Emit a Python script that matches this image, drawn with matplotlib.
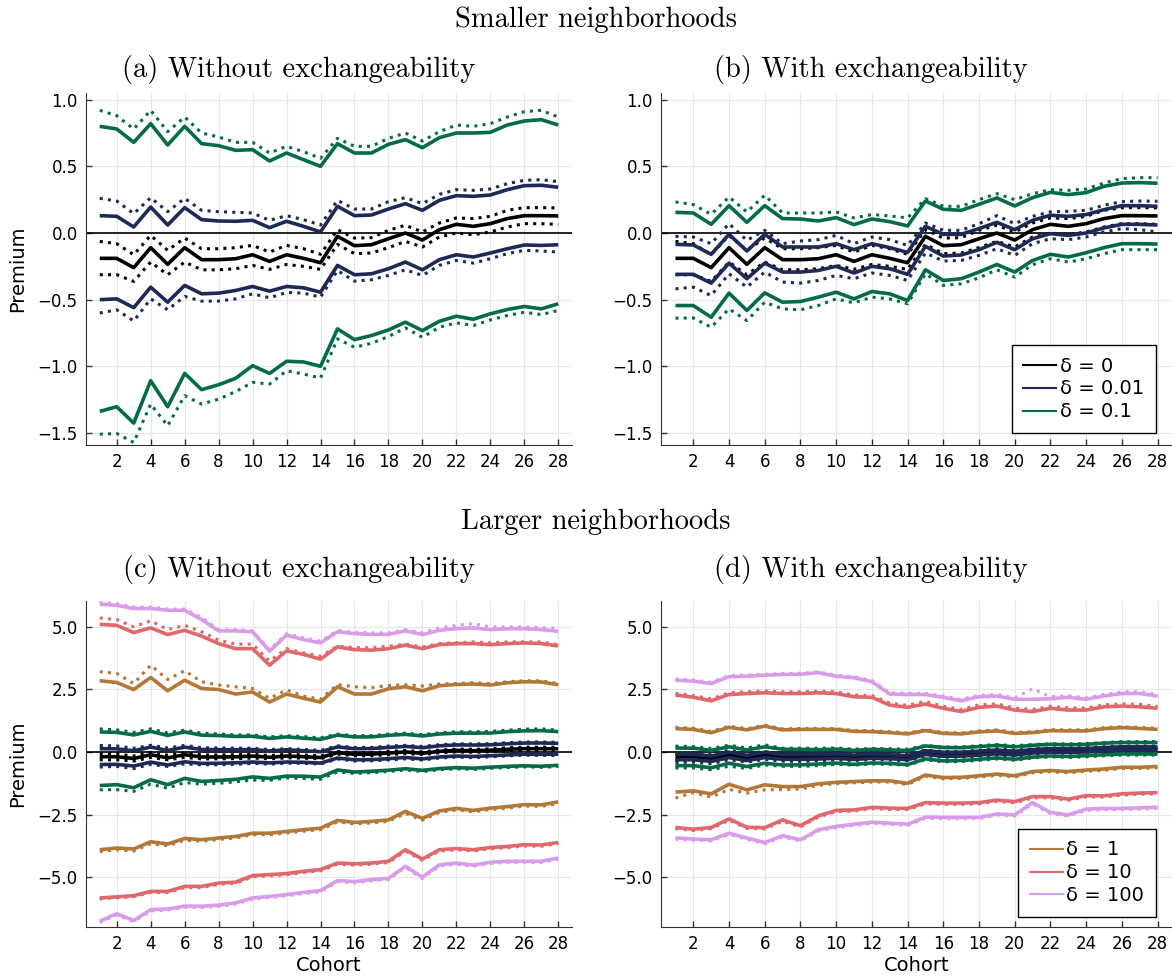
import numpy as np
import matplotlib
matplotlib.use("Agg")
import matplotlib.pyplot as plt
from matplotlib.lines import Line2D
from matplotlib.ticker import FuncFormatter

cohorts = np.arange(1, 29)

# ---- Smaller neighborhoods, without exchangeability (a) ----
a_black = [-0.19, -0.19, -0.26, -0.11, -0.235, -0.11, -0.20, -0.20, -0.193, -0.163, -0.213, -0.163, -0.19, -0.223,
           -0.025, -0.095, -0.088, -0.043, 0.0, -0.053, 0.025, 0.065, 0.05, 0.07, 0.108, 0.13, 0.13, 0.128]
a_black_hi_dot = [-0.063, -0.08, -0.163, -0.018, -0.13, -0.038, -0.118, -0.118, -0.11, -0.093, -0.143, -0.093, -0.118, -0.16,
                  0.025, -0.038, -0.035, 0.02, 0.058, 0.008, 0.075, 0.113, 0.108, 0.125, 0.17, 0.19, 0.19, 0.188]
a_black_lo_dot = [-0.313, -0.313, -0.363, -0.218, -0.313, -0.218, -0.276, -0.276, -0.268, -0.243, -0.273, -0.236, -0.25, -0.273,
                  -0.085, -0.155, -0.15, -0.11, -0.063, -0.105, -0.03, 0.0, -0.013, 0.008, 0.045, 0.07, 0.07, 0.065]
a_blue_hi = [0.13, 0.125, 0.045, 0.195, 0.06, 0.19, 0.10, 0.09, 0.088, 0.095, 0.04, 0.088, 0.05, 0.008,
             0.20, 0.13, 0.135, 0.18, 0.22, 0.17, 0.245, 0.28, 0.275, 0.285, 0.325, 0.355, 0.358, 0.343]
a_blue_hi_dot = [0.26, 0.24, 0.145, 0.265, 0.16, 0.26, 0.17, 0.16, 0.155, 0.15, 0.095, 0.13, 0.10, 0.06,
                 0.245, 0.18, 0.18, 0.235, 0.265, 0.22, 0.29, 0.325, 0.32, 0.33, 0.37, 0.395, 0.40, 0.385]
a_blue_lo = [-0.50, -0.494, -0.56, -0.406, -0.519, -0.393, -0.456, -0.451, -0.431, -0.401, -0.436, -0.401, -0.411, -0.444,
             -0.243, -0.313, -0.306, -0.268, -0.218, -0.276, -0.20, -0.163, -0.18, -0.15, -0.118, -0.09, -0.093, -0.088]
a_blue_lo_dot = [-0.60, -0.576, -0.66, -0.494, -0.576, -0.476, -0.511, -0.511, -0.494, -0.456, -0.486, -0.446, -0.451, -0.481,
                 -0.281, -0.361, -0.351, -0.318, -0.276, -0.318, -0.243, -0.206, -0.226, -0.193, -0.155, -0.13, -0.135, -0.143]
a_green_hi = [0.80, 0.78, 0.68, 0.82, 0.66, 0.80, 0.67, 0.655, 0.62, 0.625, 0.54, 0.60, 0.55, 0.50,
              0.67, 0.60, 0.60, 0.665, 0.70, 0.64, 0.715, 0.75, 0.75, 0.755, 0.81, 0.84, 0.85, 0.81]
a_green_hi_dot = [0.92, 0.88, 0.78, 0.92, 0.76, 0.87, 0.75, 0.72, 0.68, 0.68, 0.60, 0.65, 0.61, 0.56,
                  0.71, 0.65, 0.65, 0.71, 0.75, 0.69, 0.76, 0.81, 0.80, 0.82, 0.87, 0.91, 0.92, 0.87]
a_green_lo = [-1.338, -1.303, -1.426, -1.108, -1.303, -1.053, -1.175, -1.138, -1.09, -0.995, -1.053, -0.962, -0.967, -1.0,
              -0.719, -0.8, -0.769, -0.727, -0.669, -0.732, -0.662, -0.624, -0.647, -0.606, -0.574, -0.551, -0.569, -0.531]
a_green_lo_dot = [-1.509, -1.504, -1.571, -1.283, -1.446, -1.22, -1.283, -1.246, -1.19, -1.12, -1.133, -1.033, -1.058, -1.088,
                  -0.794, -0.857, -0.827, -0.777, -0.712, -0.782, -0.707, -0.674, -0.694, -0.652, -0.619, -0.594, -0.612, -0.581]

# ---- Smaller neighborhoods, with exchangeability (b) ----
b_blue_hi = [-0.085, -0.09, -0.16, -0.01, -0.135, -0.01, -0.105, -0.105, -0.105, -0.08, -0.125, -0.08, -0.11, -0.145,
             0.05, -0.01, -0.01, 0.033, 0.08, 0.025, 0.095, 0.133, 0.125, 0.138, 0.175, 0.205, 0.205, 0.2]
b_blue_hi_dot = [-0.025, -0.03, -0.08, 0.07, -0.055, 0.02, -0.08, -0.06, -0.05, -0.018, -0.08, -0.03, -0.05, -0.093,
                 0.075, 0.02, 0.02, 0.07, 0.13, 0.07, 0.125, 0.158, 0.163, 0.17, 0.208, 0.235, 0.24, 0.238]
b_blue_lo = [-0.31, -0.31, -0.376, -0.226, -0.343, -0.226, -0.293, -0.293, -0.281, -0.25, -0.30, -0.25, -0.268, -0.31,
             -0.10, -0.173, -0.165, -0.125, -0.07, -0.125, -0.043, -0.005, -0.018, 0.0, 0.038, 0.065, 0.065, 0.06]
b_blue_lo_dot = [-0.419, -0.406, -0.469, -0.306, -0.406, -0.293, -0.368, -0.376, -0.356, -0.318, -0.343, -0.30, -0.318, -0.356,
                 -0.15, -0.21, -0.206, -0.168, -0.118, -0.168, -0.08, -0.043, -0.05, -0.03, 0.008, 0.033, 0.025, 0.008]
b_green_hi = [0.155, 0.15, 0.065, 0.205, 0.08, 0.205, 0.108, 0.105, 0.09, 0.115, 0.063, 0.105, 0.085, 0.053,
              0.24, 0.178, 0.17, 0.215, 0.263, 0.203, 0.265, 0.305, 0.288, 0.303, 0.35, 0.375, 0.378, 0.373]
b_green_hi_dot = [0.233, 0.213, 0.14, 0.27, 0.158, 0.283, 0.15, 0.15, 0.15, 0.158, 0.113, 0.138, 0.128, 0.113,
                  0.258, 0.2, 0.2, 0.25, 0.295, 0.25, 0.295, 0.325, 0.32, 0.33, 0.375, 0.408, 0.415, 0.415]
b_green_lo = [-0.544, -0.544, -0.632, -0.451, -0.581, -0.449, -0.519, -0.514, -0.481, -0.444, -0.494, -0.439, -0.456, -0.506,
              -0.276, -0.356, -0.343, -0.293, -0.236, -0.293, -0.206, -0.16, -0.18, -0.148, -0.11, -0.08, -0.08, -0.083]
b_green_lo_dot = [-0.639, -0.637, -0.707, -0.569, -0.657, -0.519, -0.569, -0.576, -0.544, -0.494, -0.524, -0.481, -0.494, -0.531,
                  -0.306, -0.393, -0.381, -0.336, -0.276, -0.331, -0.238, -0.193, -0.218, -0.193, -0.155, -0.125, -0.125, -0.125]

# ---- Larger neighborhoods, without exchangeability (c) ----
c_brown_hi = [2.84, 2.77, 2.49, 2.97, 2.44, 2.86, 2.53, 2.49, 2.31, 2.39, 1.99, 2.31, 2.14, 1.99,
              2.60, 2.31, 2.31, 2.52, 2.60, 2.44, 2.64, 2.69, 2.71, 2.67, 2.76, 2.80, 2.79, 2.68]
c_brown_hi_dot = [3.20, 3.13, 2.73, 3.46, 2.89, 3.24, 2.80, 2.67, 2.60, 2.53, 2.14, 2.47, 2.23, 2.10,
                  2.69, 2.60, 2.57, 2.65, 2.68, 2.63, 2.71, 2.73, 2.76, 2.73, 2.80, 2.84, 2.84, 2.73]
c_brown_lo = [-3.90, -3.83, -3.87, -3.58, -3.67, -3.45, -3.50, -3.43, -3.37, -3.24, -3.24, -3.17, -3.10, -3.04,
              -2.73, -2.81, -2.77, -2.71, -2.37, -2.65, -2.35, -2.25, -2.33, -2.24, -2.18, -2.10, -2.11, -1.99]
c_brown_lo_dot = [-3.97, -3.90, -3.95, -3.66, -3.74, -3.52, -3.56, -3.49, -3.43, -3.30, -3.30, -3.23, -3.16, -3.10,
                  -2.79, -2.87, -2.83, -2.77, -2.45, -2.72, -2.41, -2.31, -2.39, -2.30, -2.24, -2.16, -2.17, -2.06]
c_red_hi = [5.09, 5.05, 4.76, 4.95, 4.68, 4.85, 4.62, 4.32, 4.12, 4.12, 3.46, 4.03, 3.89, 3.70,
            4.19, 4.08, 4.06, 4.12, 4.26, 4.12, 4.28, 4.32, 4.32, 4.28, 4.32, 4.35, 4.32, 4.23]
c_red_hi_dot = [5.34, 5.28, 4.99, 5.23, 4.88, 5.05, 4.79, 4.46, 4.30, 4.30, 3.63, 4.12, 3.95, 3.82,
                4.22, 4.16, 4.16, 4.22, 4.30, 4.19, 4.32, 4.36, 4.39, 4.35, 4.39, 4.39, 4.39, 4.28]
c_red_lo = [-5.82, -5.78, -5.73, -5.56, -5.56, -5.36, -5.36, -5.23, -5.19, -4.93, -4.89, -4.85, -4.76, -4.69,
            -4.43, -4.46, -4.43, -4.36, -3.90, -4.27, -3.90, -3.85, -3.90, -3.81, -3.77, -3.70, -3.71, -3.61]
c_red_lo_dot = [-5.86, -5.82, -5.77, -5.60, -5.61, -5.41, -5.41, -5.28, -5.24, -4.98, -4.94, -4.90, -4.81, -4.74,
                -4.48, -4.51, -4.48, -4.41, -3.96, -4.32, -3.95, -3.90, -3.95, -3.86, -3.82, -3.75, -3.76, -3.66]
c_pink_hi = [5.89, 5.85, 5.72, 5.72, 5.65, 5.65, 5.28, 4.83, 4.83, 4.79, 4.02, 4.66, 4.48, 4.35,
             4.79, 4.72, 4.69, 4.69, 4.83, 4.68, 4.85, 4.92, 4.95, 4.88, 4.91, 4.92, 4.88, 4.81]
c_pink_hi_dot = [5.98, 5.92, 5.78, 5.78, 5.70, 5.70, 5.36, 4.88, 4.88, 4.83, 4.08, 4.72, 4.55, 4.42,
                 4.85, 4.77, 4.75, 4.75, 4.88, 4.75, 4.95, 5.05, 5.12, 4.99, 4.99, 4.99, 4.96, 4.92]
c_pink_lo = [-6.75, -6.45, -6.72, -6.29, -6.26, -6.15, -6.15, -6.11, -6.02, -5.82, -5.76, -5.69, -5.60, -5.53,
             -5.13, -5.17, -5.09, -5.04, -4.56, -4.99, -4.50, -4.43, -4.51, -4.40, -4.36, -4.36, -4.36, -4.23]
c_pink_lo_dot = [-6.80, -6.50, -6.77, -6.34, -6.31, -6.20, -6.20, -6.16, -6.07, -5.87, -5.81, -5.74, -5.65, -5.58,
                 -5.18, -5.22, -5.14, -5.09, -4.61, -5.05, -4.55, -4.48, -4.56, -4.45, -4.41, -4.41, -4.41, -4.28]

# ---- Larger neighborhoods, with exchangeability (d) ----
d_brown_hi = [0.93, 0.90, 0.77, 0.98, 0.88, 1.03, 0.88, 0.90, 0.90, 0.90, 0.82, 0.81, 0.77, 0.72,
              0.85, 0.74, 0.72, 0.80, 0.84, 0.74, 0.77, 0.85, 0.84, 0.84, 0.93, 0.97, 0.94, 0.90]
d_brown_hi_dot = [0.98, 0.95, 0.82, 1.03, 0.93, 1.07, 0.92, 0.94, 0.94, 0.93, 0.86, 0.85, 0.81, 0.76,
                  0.89, 0.78, 0.76, 0.84, 0.88, 0.78, 0.81, 0.89, 0.88, 0.88, 0.97, 1.01, 0.98, 0.94]
d_brown_lo = [-1.60, -1.55, -1.67, -1.29, -1.51, -1.31, -1.38, -1.38, -1.27, -1.21, -1.18, -1.15, -1.15, -1.25,
              -0.92, -1.02, -1.01, -0.95, -0.88, -0.95, -0.78, -0.74, -0.78, -0.72, -0.68, -0.61, -0.61, -0.58]
d_brown_lo_dot = [-1.84, -1.62, -1.80, -1.49, -1.64, -1.51, -1.50, -1.48, -1.33, -1.26, -1.23, -1.20, -1.20, -1.30,
                  -0.97, -1.07, -1.06, -1.00, -0.93, -1.00, -0.83, -0.79, -0.83, -0.77, -0.73, -0.66, -0.66, -0.63]
d_red_hi = [2.27, 2.18, 2.04, 2.29, 2.33, 2.36, 2.33, 2.33, 2.36, 2.33, 2.20, 2.18, 1.87, 1.78,
            1.91, 1.74, 1.61, 1.78, 1.83, 1.67, 1.61, 1.74, 1.67, 1.67, 1.80, 1.83, 1.80, 1.74]
d_red_hi_dot = [2.34, 2.25, 2.12, 2.36, 2.40, 2.43, 2.40, 2.40, 2.42, 2.40, 2.27, 2.25, 1.95, 1.86,
                2.02, 1.82, 1.70, 1.88, 1.92, 1.75, 1.70, 1.82, 1.76, 1.75, 1.88, 1.92, 1.90, 1.82]
d_red_lo = [-3.01, -3.08, -3.01, -2.67, -3.00, -3.02, -2.71, -2.94, -2.55, -2.33, -2.31, -2.21, -2.24, -2.25,
            -2.02, -2.04, -2.04, -2.02, -1.92, -1.98, -1.78, -1.78, -1.88, -1.74, -1.75, -1.67, -1.64, -1.62]
d_red_lo_dot = [-3.06, -3.13, -3.06, -2.72, -3.05, -3.07, -2.76, -2.99, -2.60, -2.38, -2.36, -2.26, -2.29, -2.30,
                -2.07, -2.09, -2.09, -2.07, -1.97, -2.03, -1.83, -1.83, -1.93, -1.79, -1.80, -1.72, -1.69, -1.67]
d_pink_hi = [2.86, 2.82, 2.73, 3.00, 3.02, 3.06, 3.09, 3.10, 3.16, 3.02, 2.96, 2.80, 2.31, 2.29,
             2.29, 2.18, 2.04, 2.20, 2.23, 2.10, 2.10, 2.12, 2.18, 2.10, 2.23, 2.33, 2.33, 2.23]
d_pink_hi_dot = [2.91, 2.87, 2.78, 3.05, 3.07, 3.10, 3.13, 3.14, 3.19, 3.06, 3.00, 2.85, 2.36, 2.34,
                 2.34, 2.23, 2.10, 2.26, 2.29, 2.16, 2.52, 2.20, 2.24, 2.16, 2.29, 2.40, 2.40, 2.30]
d_pink_lo = [-3.43, -3.47, -3.50, -3.24, -3.43, -3.61, -3.34, -3.50, -3.10, -2.97, -2.88, -2.80, -2.84, -2.88,
             -2.60, -2.61, -2.61, -2.61, -2.47, -2.51, -2.02, -2.41, -2.51, -2.28, -2.25, -2.25, -2.23, -2.20]
d_pink_lo_dot = [-3.48, -3.52, -3.55, -3.29, -3.48, -3.66, -3.39, -3.55, -3.15, -3.02, -2.93, -2.85, -2.89, -2.93,
                 -2.65, -2.66, -2.66, -2.66, -2.52, -2.56, -2.07, -2.46, -2.56, -2.33, -2.30, -2.30, -2.28, -2.25]

# colores
col_black = "black"
col_blue = "#1d2a55"
col_green = "#046c45"
col_brown = "#b27838"
col_red = "#e0686c"
col_pink = "#d99ce8"

W, H = 1172, 976
fig = plt.figure(figsize=(W / 100, H / 100), dpi=100)


def px_axes(l, t, r, b):
    return fig.add_axes([l / W, 1 - b / H, (r - l) / W, (b - t) / H])


def style(ax, ylim, yticks):
    ax.set_xlim(0.19, 28.81)
    ax.set_ylim(*ylim)
    ax.set_xticks(range(2, 29, 2))
    ax.set_yticks(yticks)
    ax.yaxis.set_major_formatter(FuncFormatter(lambda v, _: f"{v:.1f}".replace("-", "\u2212")))
    ax.grid(True, color="#e6e6e6", lw=0.8)
    ax.set_axisbelow(True)
    for s in ["top", "right"]:
        ax.spines[s].set_visible(False)
    for s in ["left", "bottom"]:
        ax.spines[s].set_color("#333333")
    ax.tick_params(direction="in", length=4, width=1, color="#333333", labelsize=12, pad=6)
    ax.axhline(0, color="black", lw=1.2, zorder=1)


def band(ax, color, solid, dotted):
    for y in solid:
        ax.plot(cohorts, y, color=color, lw=2.6, solid_capstyle="butt")
    for y in dotted:
        ax.plot(cohorts, y, color=color, lw=2.2, ls=(0, (1, 1.7)))


ax_a = px_axes(86, 93, 572, 445)
ax_b = px_axes(661, 93, 1172, 445)
ax_c = px_axes(86, 601, 572, 927)
ax_d = px_axes(661, 601, 1172, 927)

small_ticks = [-1.5, -1.0, -0.5, 0.0, 0.5, 1.0]
large_ticks = [-5.0, -2.5, 0.0, 2.5, 5.0]
style(ax_a, (-1.59, 1.05), small_ticks)
style(ax_b, (-1.59, 1.05), small_ticks)
style(ax_c, (-6.98, 6.02), large_ticks)
style(ax_d, (-6.98, 6.02), large_ticks)

# panel (a)
band(ax_a, col_black, [a_black], [a_black_hi_dot, a_black_lo_dot])
band(ax_a, col_blue, [a_blue_hi, a_blue_lo], [a_blue_hi_dot, a_blue_lo_dot])
band(ax_a, col_green, [a_green_hi, a_green_lo], [a_green_hi_dot, a_green_lo_dot])

# panel (b)
band(ax_b, col_black, [a_black], [a_black_hi_dot, a_black_lo_dot])
band(ax_b, col_blue, [b_blue_hi, b_blue_lo], [b_blue_hi_dot, b_blue_lo_dot])
band(ax_b, col_green, [b_green_hi, b_green_lo], [b_green_hi_dot, b_green_lo_dot])

# panel (c)
band(ax_c, col_black, [a_black], [a_black_hi_dot, a_black_lo_dot])
band(ax_c, col_blue, [a_blue_hi, a_blue_lo], [a_blue_hi_dot, a_blue_lo_dot])
band(ax_c, col_green, [a_green_hi, a_green_lo], [a_green_hi_dot, a_green_lo_dot])
band(ax_c, col_brown, [c_brown_hi, c_brown_lo], [c_brown_hi_dot, c_brown_lo_dot])
band(ax_c, col_red, [c_red_hi, c_red_lo], [c_red_hi_dot, c_red_lo_dot])
band(ax_c, col_pink, [c_pink_hi, c_pink_lo], [c_pink_hi_dot, c_pink_lo_dot])

# panel (d)
band(ax_d, col_black, [a_black], [a_black_hi_dot, a_black_lo_dot])
band(ax_d, col_blue, [b_blue_hi, b_blue_lo], [b_blue_hi_dot, b_blue_lo_dot])
band(ax_d, col_green, [b_green_hi, b_green_lo], [b_green_hi_dot, b_green_lo_dot])
band(ax_d, col_brown, [d_brown_hi, d_brown_lo], [d_brown_hi_dot, d_brown_lo_dot])
band(ax_d, col_red, [d_red_hi, d_red_lo], [d_red_hi_dot, d_red_lo_dot])
band(ax_d, col_pink, [d_pink_hi, d_pink_lo], [d_pink_hi_dot, d_pink_lo_dot])

# etiquetas de ejes
for ax in [ax_a, ax_c]:
    ax.set_ylabel("Premium", fontsize=14)
    ax.yaxis.set_label_coords(-0.121, 0.5)
for ax in [ax_c, ax_d]:
    ax.set_xlabel("Cohort", fontsize=14)
    ax.xaxis.set_label_coords(0.5, -0.089)


def legend(ax, labels, colors, anchor):
    handles = [Line2D([], [], color=c, lw=1.5) for c in colors]
    leg = ax.legend(handles, labels, loc="lower right", bbox_to_anchor=anchor, borderaxespad=0,
                    fontsize=14, fancybox=False, edgecolor="black", framealpha=1,
                    handlelength=1.7, handletextpad=0.2, labelspacing=0.2, borderpad=0.6)
    leg.get_frame().set_linewidth(1)


legend(ax_b, ["δ = 0", "δ = 0.01", "δ = 0.1"], [col_black, col_blue, col_green], (0.9687, 0.034))
legend(ax_d, ["δ = 1", "δ = 10", "δ = 100"], [col_brown, col_red, col_pink], (0.9687, 0.031))

# titulos
serif = dict(ha="center", va="center", fontsize=20.5, family="cmr10")
fig.text(596 / W, 1 - 20 / H, "Smaller neighborhoods", **serif)
fig.text(299 / W, 1 - 70 / H, "(a) Without exchangeability", **serif)
fig.text(871 / W, 1 - 70 / H, "(b) With exchangeability", **serif)
fig.text(596 / W, 1 - 522 / H, "Larger neighborhoods", **serif)
fig.text(299 / W, 1 - 570 / H, "(c) Without exchangeability", **serif)
fig.text(871 / W, 1 - 570 / H, "(d) With exchangeability", **serif)

fig.savefig("out.png", dpi=100)
